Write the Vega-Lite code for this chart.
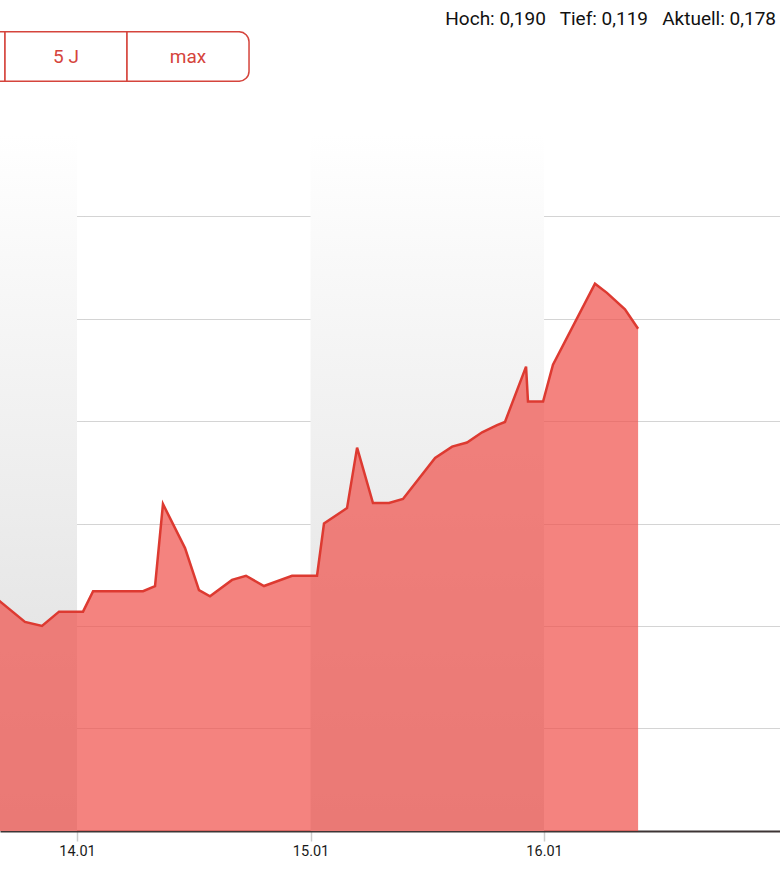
{
  "$schema": "https://vega.github.io/schema/vega-lite/v6.json",
  "padding": {"left": 0, "right": 0, "top": 10, "bottom": 0},
  "background": "white",
  "config": {"font": "Roboto", "view": {"stroke": null}},
  "title": {"text": "Hoch: 0,190\u00a0\u00a0 Tief: 0,119\u00a0\u00a0 Aktuell: 0,178", "anchor": "end", "fontSize": 19, "font": "Roboto", "fontWeight": "normal", "color": "#111111", "offset": 2, "dx": -4},
  "spacing": 52,
  "vconcat": [
    {
      "width": 250,
      "height": 51,
      "data": {"values": [
        {"label": "3 J", "from": 0, "to": 1},
        {"label": "5 J", "from": 1, "to": 2},
        {"label": "max", "from": 2, "to": 3}
      ]},
      "encoding": {
        "x": {"field": "from", "type": "quantitative", "scale": {"domain": [0.959, 3.008], "nice": false, "zero": false}, "axis": null},
        "y": {"datum": 0, "type": "quantitative", "scale": {"domain": [-0.015, 1.015], "nice": false, "zero": false}, "axis": null}
      },
      "layer": [
        {"transform": [{"filter": "datum.label != 'max'"}],
         "mark": {"type": "rect", "fill": "white", "stroke": "#d5443c", "strokeWidth": 1.5, "clip": true},
         "encoding": {"x2": {"field": "to"}, "y2": {"datum": 1}}},
        {"transform": [{"filter": "datum.label == 'max'"}],
         "mark": {"type": "rect", "fill": "white", "stroke": "#d5443c", "strokeWidth": 1.5, "cornerRadiusTopRight": 10, "cornerRadiusBottomRight": 10, "clip": true},
         "encoding": {"x2": {"field": "to"}, "y2": {"datum": 1}}},
        {"transform": [{"filter": "datum.label != '3 J'"}],
         "mark": {"type": "text", "color": "#d5443c", "fontSize": 19, "font": "Roboto", "align": "center", "baseline": "middle", "dx": 61, "clip": true},
         "encoding": {"y": {"datum": 0.5, "type": "quantitative"}, "text": {"field": "label"}}}
      ]
    },
    {
      "width": 780,
      "height": 697,
      "layer": [
        {
          "data": {"values": [
            {"start": "2025-01-13T00:00", "end": "2025-01-14T00:00"},
            {"start": "2025-01-15T00:00", "end": "2025-01-16T00:00"}
          ]},
          "mark": {"type": "rect", "clip": true, "fill": {"gradient": "linear", "x1": 0, "y1": 0, "x2": 0, "y2": 1, "stops": [{"offset": 0, "color": "#ffffff"}, {"offset": 1, "color": "#dcdcdc"}]}},
          "encoding": {
            "x": {"field": "start", "type": "temporal"},
            "x2": {"field": "end"}
          }
        },
        {
          "data": {"name": "series"},
          "layer": [
            {"mark": {"type": "area", "clip": true, "fill": "#f0504a", "fillOpacity": 0.71, "interpolate": "linear"}},
            {"mark": {"type": "line", "clip": true, "color": "#dd3a31", "strokeWidth": 2.5, "interpolate": "linear"}}
          ],
          "encoding": {
            "x": {"field": "t", "type": "temporal", "scale": {"domain": ["2025-01-13T16:05", "2025-01-17T00:15"]},
                  "axis": {"values": [{"year": 2025, "month": 1, "date": 14}, {"year": 2025, "month": 1, "date": 15}, {"year": 2025, "month": 1, "date": 16}],
                           "format": "%d.%m", "title": null, "grid": false, "domainColor": "#3d3535", "domainWidth": 2,
                           "tickColor": "#cccccc", "tickSize": 10, "tickWidth": 1.5, "labelFontSize": 14.5, "labelFont": "Liberation Sans Narrow, Roboto",
                           "labelColor": "#1a1a1a", "labelPadding": 3}},
            "y": {"field": "v", "type": "quantitative", "scale": {"domain": [0.13, 0.198], "nice": false, "zero": false},
                  "axis": {"values": [0.14, 0.15, 0.16, 0.17, 0.18, 0.19], "grid": true, "gridColor": "#a8a8a8", "gridDash": [1, 1], "gridWidth": 1,
                           "labels": false, "ticks": false, "domain": false, "title": null}}
          }
        }
      ]
    }
  ],
  "datasets": {
    "series": [
      {"t": "2025-01-13T15:04", "v": 0.1532},
      {"t": "2025-01-13T16:05", "v": 0.1524},
      {"t": "2025-01-13T18:39", "v": 0.1504},
      {"t": "2025-01-13T20:24", "v": 0.1500},
      {"t": "2025-01-13T22:09", "v": 0.1514},
      {"t": "2025-01-14T00:37", "v": 0.1514},
      {"t": "2025-01-14T01:39", "v": 0.1534},
      {"t": "2025-01-14T06:47", "v": 0.1534},
      {"t": "2025-01-14T08:01", "v": 0.1539},
      {"t": "2025-01-14T08:50", "v": 0.1619},
      {"t": "2025-01-14T11:06", "v": 0.1576},
      {"t": "2025-01-14T12:32", "v": 0.1535},
      {"t": "2025-01-14T13:40", "v": 0.1529},
      {"t": "2025-01-14T15:56", "v": 0.1545},
      {"t": "2025-01-14T17:22", "v": 0.1549},
      {"t": "2025-01-14T19:13", "v": 0.1539},
      {"t": "2025-01-14T22:06", "v": 0.1549},
      {"t": "2025-01-15T00:40", "v": 0.1549},
      {"t": "2025-01-15T01:23", "v": 0.1600},
      {"t": "2025-01-15T03:45", "v": 0.1615},
      {"t": "2025-01-15T04:47", "v": 0.1674},
      {"t": "2025-01-15T06:25", "v": 0.1620},
      {"t": "2025-01-15T08:04", "v": 0.1620},
      {"t": "2025-01-15T09:30", "v": 0.1624},
      {"t": "2025-01-15T12:48", "v": 0.1664},
      {"t": "2025-01-15T14:33", "v": 0.1675},
      {"t": "2025-01-15T16:05", "v": 0.1679},
      {"t": "2025-01-15T17:38", "v": 0.1689},
      {"t": "2025-01-15T19:10", "v": 0.1696},
      {"t": "2025-01-15T19:59", "v": 0.1699},
      {"t": "2025-01-15T22:09", "v": 0.1753},
      {"t": "2025-01-15T22:21", "v": 0.1719},
      {"t": "2025-01-15T23:54", "v": 0.1719},
      {"t": "2025-01-16T00:55", "v": 0.1755},
      {"t": "2025-01-16T05:14", "v": 0.1834},
      {"t": "2025-01-16T06:28", "v": 0.1825},
      {"t": "2025-01-16T08:19", "v": 0.1809},
      {"t": "2025-01-16T09:40", "v": 0.1790}
    ]
  }
}
